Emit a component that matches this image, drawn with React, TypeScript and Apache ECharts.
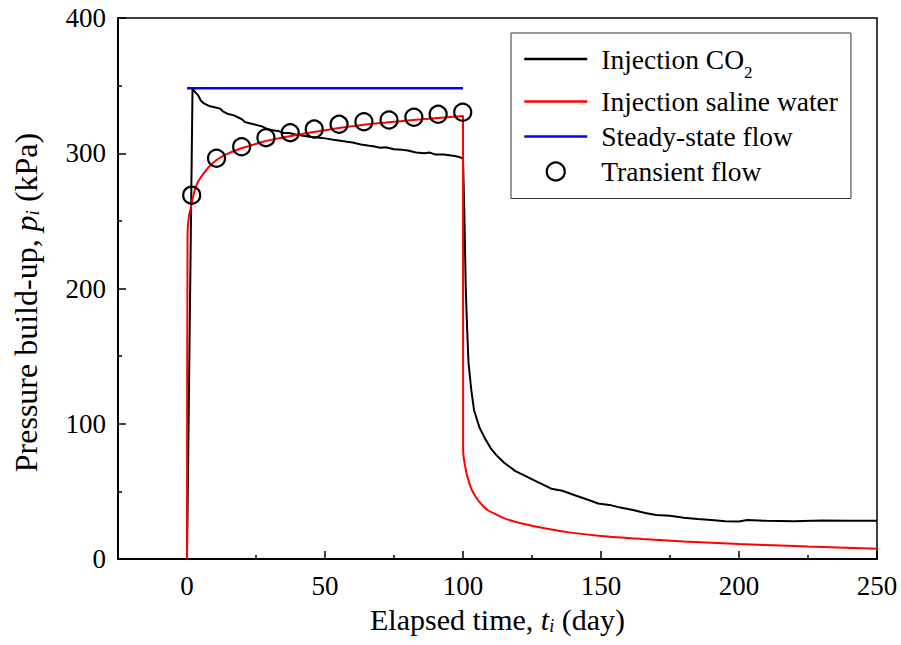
import React, { useEffect, useRef } from "react";
import * as echarts from "echarts";

const co2Time = [0, 2, 3, 4, 5, 6, 7, 8, 10, 12, 13, 15, 17, 18, 20, 21, 23, 25, 27, 29, 31, 33, 35, 37, 39, 42, 45, 48, 50, 53, 55, 58, 60, 63, 66, 68, 70, 72, 75, 78, 80, 83, 86, 88, 90, 93, 95, 97, 99, 100, 100.5, 101, 101.5, 102, 103, 104, 106, 108, 110, 112, 115, 117, 119, 122, 126, 129, 132, 136, 140, 145, 149, 153, 157, 162, 166, 170, 175, 180, 185, 190, 195, 200, 203, 210, 220, 230, 240, 250];
const co2Pressure = [0, 348, 345, 343, 339, 337, 336, 335, 334, 333, 331, 329, 328, 327, 325, 323, 322, 321, 320, 318, 317, 316.5, 315, 315, 314, 313, 312, 311.5, 311, 310, 309.5, 308.5, 308, 306.5, 305.5, 305, 304, 304.5, 303, 302.5, 302, 300.5, 300, 300.5, 299, 299, 298.5, 298, 297, 296, 255, 200, 170, 145, 125, 110, 97, 89, 82, 77, 71, 68, 65, 62, 58, 55, 52, 50.5, 47.5, 44, 41, 40, 38, 36, 34, 32.5, 32, 30.5, 29.5, 28.8, 28, 27.8, 28.8, 28.2, 28, 28.5, 28.3, 28.3];

const salineTime = [0, 0.2, 0.6, 1.2, 2, 3, 4, 6, 8, 10.7, 14, 18, 22, 27.6, 33, 39.7, 50, 64, 82, 100, 100.05, 101, 102, 103, 104, 106, 109, 112, 115, 121, 130, 139, 150, 165, 180, 200, 225, 250];
const salinePressure = [0, 240, 252, 258, 266, 274, 279, 285, 290, 295, 299, 302.4, 305, 308.5, 311, 313.5, 317, 321, 324.6, 327.5, 80, 66, 58, 52, 48, 42, 36, 33, 30, 26.4, 22.5, 19.5, 17, 14.8, 13, 11.1, 9.2, 7.6];

const steadyTime = [0, 100];
const steadyPressure = [348, 348];

const transientTime = [1.7, 10.7, 19.8, 28.6, 37.4, 46.1, 55.1, 64.1, 73.2, 82.2, 91.0, 99.9];
const transientPressure = [269, 296.3, 304.8, 311.5, 315.2, 317.9, 321.4, 323.3, 324.6, 326.6, 328.8, 330.3];

const xMajorTicks = [0, 50, 100, 150, 200, 250];
const xMinorTicks = [25, 75, 125, 175, 225];

const FONT = "'Liberation Serif', 'Times New Roman', serif";

const zip = (xs: number[], ys: number[]) => xs.map((x, i) => [x, ys[i]]);

export default function App() {
  const ref = useRef<HTMLDivElement>(null);
  useEffect(() => {
    if (!ref.current) return;
    const chart = echarts.init(ref.current, undefined, { renderer: "svg" });
    const xRich = {
      it: { fontFamily: FONT, fontSize: 30, fontStyle: "italic", color: "#000" },
      sub: { fontFamily: FONT, fontSize: 18, fontStyle: "italic", color: "#000", padding: [13, 0, 0, 0] },
    };
    const yRich = {
      it: { fontFamily: FONT, fontSize: 32, fontStyle: "italic", color: "#000" },
      sub: { fontFamily: FONT, fontSize: 19, fontStyle: "italic", color: "#000", padding: [14, 0, 0, 0] },
    };
    const hideSymbol = { color: "rgba(0,0,0,0)", borderWidth: 0, opacity: 0 };
    chart.setOption({
      animation: false,
      backgroundColor: "#fff",
      grid: {
        left: 118,
        right: 24,
        top: 18,
        bottom: 86,
        outerBoundsMode: "none",
        containLabel: false,
        show: true,
        borderColor: "#000",
        borderWidth: 1.5,
        backgroundColor: "transparent",
      },
      xAxis: [
        {
          type: "value",
          min: -25,
          max: 250,
          position: "bottom",
          axisLine: { show: true, onZero: false, lineStyle: { color: "#000", width: 2 } },
          axisTick: { show: true, inside: true, length: 8, lineStyle: { color: "#000", width: 1.5 }, customValues: xMajorTicks },
          axisLabel: { customValues: xMajorTicks, fontFamily: FONT, fontSize: 27, color: "#000", margin: 13 },
          splitLine: { show: false },
          name: "Elapsed time, {it|t}{sub|i} (day)",
          nameLocation: "middle",
          nameGap: 45,
          nameTextStyle: { fontFamily: FONT, fontSize: 30, color: "#000", rich: xRich },
        },
        {
          type: "value",
          min: -25,
          max: 250,
          position: "bottom",
          axisLine: { show: false, onZero: false },
          axisTick: { show: true, inside: true, length: 4, lineStyle: { color: "#000", width: 1.5 }, customValues: xMinorTicks },
          axisLabel: { show: false },
          splitLine: { show: false },
        },
      ],
      yAxis: {
        type: "value",
        min: 0,
        max: 400,
        interval: 100,
        axisLine: { show: true, onZero: false, lineStyle: { color: "#000", width: 2 } },
        axisTick: { show: true, inside: true, length: 8, lineStyle: { color: "#000", width: 1.5 } },
        minorTick: { show: true, splitNumber: 2, length: 4, lineStyle: { color: "#000", width: 1.5 } },
        axisLabel: { fontFamily: FONT, fontSize: 27, color: "#000", margin: 12 },
        splitLine: { show: false },
        name: "Pressure build-up, {it|p}{sub|i} (kPa)",
        nameLocation: "middle",
        nameGap: 76,
        nameTextStyle: { fontFamily: FONT, fontSize: 32, color: "#000", rich: yRich, padding: [0, 28, 0, 0] },
      },
      legend: {
        orient: "vertical",
        left: 511,
        top: 33,
        padding: [12, 13, 13, 12],
        itemGap: 7,
        itemWidth: 63,
        itemHeight: 18,
        borderColor: "#333",
        borderWidth: 1,
        backgroundColor: "#fff",
        textStyle: {
          fontFamily: FONT,
          fontSize: 27.5,
          color: "#000",
          padding: [0, 0, 0, 9],
          rich: {
            sub: { fontFamily: FONT, fontSize: 17, color: "#000", padding: [26, 0, 0, 0] },
          },
        },
        formatter: (name: string) => (name === "Injection CO2" ? "Injection CO{sub|2}" : name),
        data: [
          { name: "Injection CO2", itemStyle: hideSymbol, lineStyle: { width: 2.5 } },
          { name: "Injection saline water", itemStyle: hideSymbol, lineStyle: { width: 2.5 } },
          { name: "Steady-state flow", itemStyle: hideSymbol, lineStyle: { width: 2.5 } },
          {
            name: "Transient flow",
            icon: "circle",
            itemStyle: { color: "rgba(0,0,0,0)", borderColor: "#000", borderWidth: 2.2, opacity: 1 },
          },
        ],
      },
      series: [
        {
          name: "Injection CO2",
          type: "line",
          data: zip(co2Time, co2Pressure),
          symbol: "none",
          lineStyle: { color: "#000", width: 2 },
          itemStyle: { color: "#000" },
          z: 3,
        },
        {
          name: "Injection saline water",
          type: "line",
          data: zip(salineTime, salinePressure),
          symbol: "none",
          smooth: 0.3,
          lineStyle: { color: "#ff0000", width: 2 },
          itemStyle: { color: "#ff0000" },
          z: 4,
        },
        {
          name: "Steady-state flow",
          type: "line",
          data: zip(steadyTime, steadyPressure),
          symbol: "none",
          lineStyle: { color: "#0000ff", width: 2.5 },
          itemStyle: { color: "#0000ff" },
          z: 2,
        },
        {
          name: "Transient flow",
          type: "scatter",
          data: zip(transientTime, transientPressure),
          symbol: "circle",
          symbolSize: 17,
          itemStyle: { color: "rgba(0,0,0,0)", borderColor: "#000", borderWidth: 2.2, opacity: 1 },
          z: 5,
        },
      ],
    });
    return () => chart.dispose();
  }, []);
  return <div ref={ref} style={{ width: 901, height: 645, position: "absolute", left: 0, top: 0 }} />;
}
